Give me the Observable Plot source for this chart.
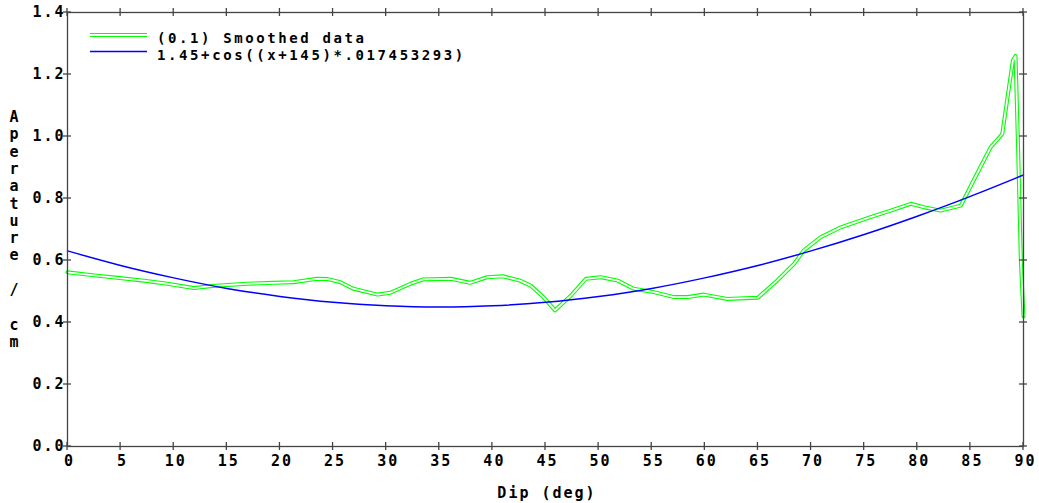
<!DOCTYPE html>
<html><head><meta charset="utf-8">
<script src="https://cdn.jsdelivr.net/npm/d3@7"></script>
<script src="https://cdn.jsdelivr.net/npm/@observablehq/plot@0.6"></script>
<style>
body{margin:0;background:#fff;}
#chart svg{display:block;}
</style></head><body><div id="chart"></div>
<script>
// Smoothed data
const smoothDip = [0, 2.5, 4.7, 7.2, 9.4, 11.9, 13.7, 16.9, 19.4, 21.3, 23.5, 24.5, 25.7, 26.9, 29.2, 30.4, 32.3, 33.5, 36.1, 37.9, 39.5, 41.0, 42.6, 43.6, 44.8, 45.9, 47.4, 48.8, 50.2, 51.8, 53.3, 55.2, 57.1, 58.4, 59.9, 62.1, 65.0, 66.8, 68.4, 69.3, 70.9, 72.8, 75.6, 77.5, 79.4, 80.6, 82.2, 84.1, 85.3, 86.9, 88.0, 88.5, 89.0, 89.25, 89.5, 89.75, 90];
const smoothAperture = [0.562, 0.552, 0.544, 0.535, 0.525, 0.511, 0.518, 0.525, 0.528, 0.530, 0.541, 0.540, 0.530, 0.509, 0.490, 0.496, 0.525, 0.539, 0.541, 0.528, 0.546, 0.549, 0.535, 0.519, 0.482, 0.439, 0.487, 0.541, 0.546, 0.535, 0.509, 0.498, 0.482, 0.482, 0.490, 0.476, 0.480, 0.535, 0.589, 0.632, 0.675, 0.707, 0.740, 0.761, 0.783, 0.772, 0.761, 0.777, 0.858, 0.965, 1.008, 1.127, 1.245, 1.26, 0.95, 0.60, 0.42];
// Fitted curve values read at every 5 degrees
const fitDip = [0, 5, 10, 15, 20, 25, 30, 35, 40, 45, 50, 55, 60, 65, 70, 75, 80, 85, 90];
const fitAperture = [0.631, 0.584, 0.544, 0.510, 0.484, 0.465, 0.454, 0.450, 0.454, 0.465, 0.484, 0.510, 0.544, 0.584, 0.631, 0.684, 0.743, 0.807, 0.876];
const xTicks = [0, 5, 10, 15, 20, 25, 30, 35, 40, 45, 50, 55, 60, 65, 70, 75, 80, 85, 90];
const yTicks = [0, 0.2, 0.4, 0.6, 0.8, 1.0, 1.2, 1.4];
const legendLabels = ["(0.1) Smoothed data", "1.45+cos((x+145)*.017453293)"];
const seriesColors = ["#00ff00", "#0000ff"];
const xTitle = "Dip (deg)";
const yTitle = "Aperature / cm";

(function () {
const smooth = smoothDip.map((x, i) => ({x, y: smoothAperture[i]}));
const fit = fitDip.map((x, i) => ({x, y: fitAperture[i]}));

const W = 1039, H = 503, mL = 67, mR = 16, mT = 12, mB = 57;
const font = "'DejaVu Sans Mono', monospace";
const axisColor = "#444";

const chart = Plot.plot({
  width: W, height: H,
  marginLeft: mL, marginRight: mR, marginTop: mT, marginBottom: mB,
  style: {fontFamily: font, fontSize: "15px", fontWeight: "bold", background: "#fff", color: "#000"},
  x: {domain: [0, 90]},
  y: {domain: [0, 1.4]},
  marks: [
    Plot.line(smooth, {x: "x", y: "y", stroke: seriesColors[0], strokeWidth: 4}),
    Plot.line(smooth, {x: "x", y: "y", stroke: "#fff", strokeWidth: 1.8}),
    Plot.line(fit, {x: "x", y: "y", stroke: seriesColors[1], strokeWidth: 1.5, curve: "natural"}),
    Plot.frame({stroke: axisColor, strokeWidth: 1.3}),
    Plot.axisX(xTicks, {anchor: "bottom", tickSize: 0, tickPadding: 9, label: null, tickFormat: d => String(d), dx: 2, fill: "#000"}),
    Plot.axisY(yTicks, {anchor: "left", tickSize: 0, tickPadding: 2, label: null, tickFormat: d => d.toFixed(1), fill: "#000"})
  ]
});
document.getElementById("chart").appendChild(chart);

const svg = d3.select(chart).style("letter-spacing", "2px");
const sx = chart.scale("x"), sy = chart.scale("y");
const tg = svg.append("g").attr("stroke", axisColor).attr("stroke-width", 1.3);
const yTop = mT, yBottom = H - mB, xLeft = mL, xRight = W - mR;
for (const t of xTicks) {
  const px = sx.apply(t);
  tg.append("line").attr("x1", px).attr("x2", px).attr("y1", yTop - 4).attr("y2", yTop + 4);
  tg.append("line").attr("x1", px).attr("x2", px).attr("y1", yBottom - 4).attr("y2", yBottom + 4);
}
for (const t of yTicks) {
  const py = sy.apply(t);
  tg.append("line").attr("x1", xLeft - 4).attr("x2", xLeft + 4).attr("y1", py).attr("y2", py);
  tg.append("line").attr("x1", xRight - 4).attr("x2", xRight + 4).attr("y1", py).attr("y2", py);
}

const tstyle = (s, size = 15) => s.attr("font-family", font).attr("font-size", size).attr("font-weight", "bold").attr("fill", "#000");

// X title
tstyle(svg.append("text")).attr("x", (xLeft + xRight) / 2 + 2).attr("y", 498).attr("text-anchor", "middle").text(xTitle);

// Y title (stacked letters)
const yt = svg.append("g");
Array.from(yTitle).forEach((ch, i) => {
  tstyle(yt.append("text")).attr("x", 15).attr("y", 122 + i * 17.3).attr("text-anchor", "middle").text(ch);
});

// Legend
const lg = svg.append("g").style("letter-spacing", "2.6px");
lg.append("line").attr("x1", 90).attr("x2", 147).attr("y1", 35).attr("y2", 35).attr("stroke", seriesColors[0]).attr("stroke-width", 4);
lg.append("line").attr("x1", 90).attr("x2", 147).attr("y1", 35).attr("y2", 35).attr("stroke", "#fff").attr("stroke-width", 1.8);
lg.append("line").attr("x1", 90).attr("x2", 147).attr("y1", 51.5).attr("y2", 51.5).attr("stroke", seriesColors[1]).attr("stroke-width", 1.5);
tstyle(lg.append("text"), 14).attr("x", 157).attr("y", 42.5).attr("text-anchor", "start").text(legendLabels[0]);
tstyle(lg.append("text"), 14).attr("x", 157).attr("y", 59.5).attr("text-anchor", "start").text(legendLabels[1]);
})();
</script></body></html>
